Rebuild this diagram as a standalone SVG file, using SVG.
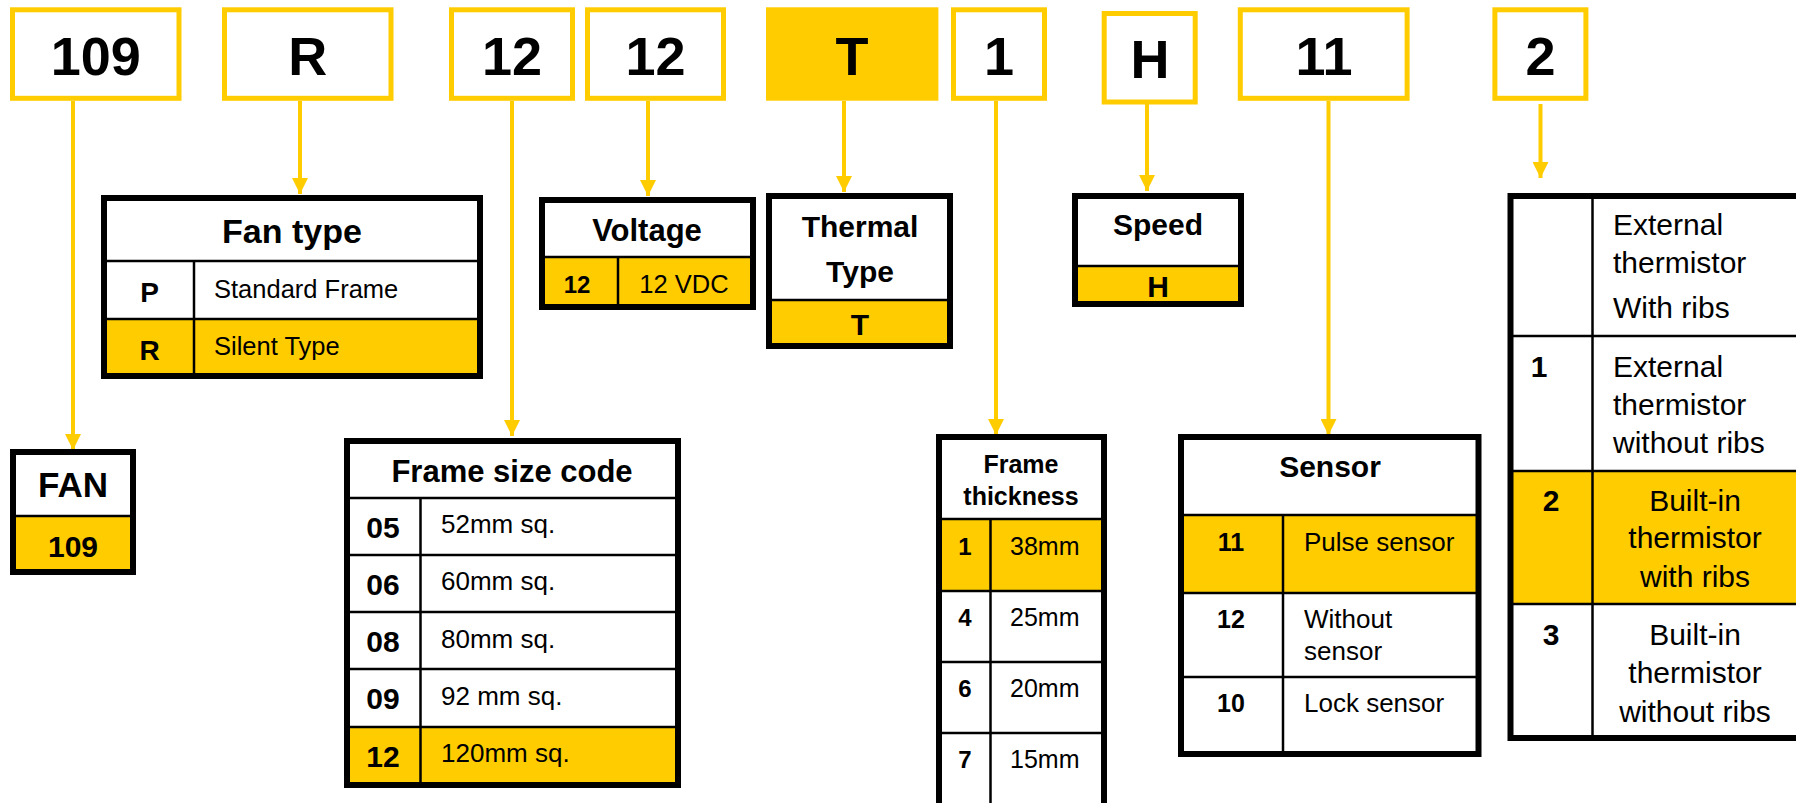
<svg xmlns="http://www.w3.org/2000/svg" width="1796" height="803" viewBox="0 0 1796 803">
<defs>
<style>
text{font-family:"Liberation Sans",Arial,sans-serif;fill:#000}
.top{fill:#fff;stroke:#FFCC00;stroke-width:5}
.topt{font-size:54px;font-weight:bold;text-anchor:middle}
.frame{fill:none;stroke:#000;stroke-width:6}
.bg{fill:#fff}
.yl{fill:#FFCC00}
.ln{stroke:#000;stroke-width:2.5;fill:none}
.b{font-weight:bold}
.m{text-anchor:middle}
.conn{stroke:#FFCC00;stroke-width:4;fill:none}
</style>
<marker id="ah" viewBox="0 0 16 16" refX="16" refY="8" markerWidth="16" markerHeight="16" markerUnits="userSpaceOnUse" orient="auto">
<path d="M0,0 L16,8 L0,16 Z" fill="#FFCC00"/>
</marker>
</defs>
<rect x="0" y="0" width="1796" height="803" fill="#fff"/>

<!-- top code boxes -->
<g id="code-109"><rect class="top" x="12.5" y="9.8" width="166.5" height="88.5"/><text class="topt" x="95.7" y="75">109</text></g>
<g id="code-R"><rect class="top" x="224.5" y="9.8" width="166.5" height="88.5"/><text class="topt" x="307.7" y="75">R</text></g>
<g id="code-12a"><rect class="top" x="451.5" y="9.8" width="121" height="88.5"/><text class="topt" x="512" y="75">12</text></g>
<g id="code-12b"><rect class="top" x="587.5" y="9.8" width="136" height="88.5"/><text class="topt" x="655.5" y="75">12</text></g>
<g id="code-T"><rect x="766" y="7.3" width="172.4" height="93.4" fill="#FFCC00"/><text class="topt" x="852" y="75">T</text></g>
<g id="code-1"><rect class="top" x="953.5" y="9.8" width="91" height="88.5"/><text class="topt" x="999" y="75">1</text></g>
<g id="code-H"><rect class="top" x="1104.2" y="13.5" width="91" height="88.5"/><text class="topt" x="1150" y="78.3">H</text></g>
<g id="code-11"><rect class="top" x="1240.3" y="9.8" width="166.8" height="88.5"/><text class="topt" x="1324" y="75">11</text></g>
<g id="code-2"><rect class="top" x="1494.9" y="9.8" width="91" height="88.5"/><text class="topt" x="1540.5" y="75">2</text></g>

<!-- connectors -->
<g id="connectors">
<line class="conn" x1="73" y1="101" x2="73" y2="450" marker-end="url(#ah)"/>
<line class="conn" x1="300" y1="101" x2="300" y2="194" marker-end="url(#ah)"/>
<line class="conn" x1="512" y1="101" x2="512" y2="436" marker-end="url(#ah)"/>
<line class="conn" x1="648" y1="101" x2="648" y2="196" marker-end="url(#ah)"/>
<line class="conn" x1="844" y1="101" x2="844" y2="192" marker-end="url(#ah)"/>
<line class="conn" x1="996" y1="101" x2="996" y2="435" marker-end="url(#ah)"/>
<line class="conn" x1="1147" y1="104" x2="1147" y2="191" marker-end="url(#ah)"/>
<line class="conn" x1="1328.5" y1="101" x2="1328.5" y2="435" marker-end="url(#ah)"/>
<line class="conn" x1="1540.5" y1="104" x2="1540.5" y2="178" marker-end="url(#ah)"/>
</g>

<!-- FAN -->
<g id="fan">
<rect class="bg" x="13" y="452" width="120" height="120"/>
<rect class="yl" x="13" y="516" width="120" height="56"/>
<line class="ln" x1="13" y1="516" x2="133" y2="516"/>
<rect class="frame" x="13" y="452" width="120" height="120"/>
<text class="b m" x="73" y="497" font-size="35">FAN</text>
<text class="b m" x="73" y="557" font-size="30">109</text>
</g>

<!-- Fan type -->
<g id="fan-type">
<rect class="bg" x="104" y="198" width="376" height="178"/>
<rect class="yl" x="104" y="319" width="376" height="57"/>
<line class="ln" x1="104" y1="261" x2="480" y2="261"/>
<line class="ln" x1="104" y1="319" x2="480" y2="319"/>
<line class="ln" x1="194" y1="261" x2="194" y2="376"/>
<rect class="frame" x="104" y="198" width="376" height="178"/>
<text class="b m" x="292" y="243" font-size="34">Fan type</text>
<text class="b m" x="149.5" y="302" font-size="28">P</text>
<text x="214" y="298" font-size="25.5">Standard Frame</text>
<text class="b m" x="149.5" y="360" font-size="28">R</text>
<text x="214" y="355" font-size="25.5">Silent Type</text>
</g>

<!-- Frame size code -->
<g id="frame-size">
<rect class="bg" x="347" y="441" width="331" height="344"/>
<rect class="yl" x="347" y="727" width="331" height="58"/>
<line class="ln" x1="347" y1="498" x2="678" y2="498"/>
<line class="ln" x1="347" y1="555" x2="678" y2="555"/>
<line class="ln" x1="347" y1="612" x2="678" y2="612"/>
<line class="ln" x1="347" y1="669" x2="678" y2="669"/>
<line class="ln" x1="347" y1="727" x2="678" y2="727"/>
<line class="ln" x1="420.5" y1="498" x2="420.5" y2="785"/>
<rect class="frame" x="347" y="441" width="331" height="344"/>
<text class="b m" x="512" y="482" font-size="31">Frame size code</text>
<text class="b m" x="383" y="538" font-size="30">05</text>
<text class="b m" x="383" y="595" font-size="30">06</text>
<text class="b m" x="383" y="652" font-size="30">08</text>
<text class="b m" x="383" y="709" font-size="30">09</text>
<text class="b m" x="383" y="767" font-size="30">12</text>
<text x="441" y="533" font-size="26">52mm sq.</text>
<text x="441" y="590" font-size="26">60mm sq.</text>
<text x="441" y="648" font-size="26">80mm sq.</text>
<text x="441" y="705" font-size="26">92 mm sq.</text>
<text x="441" y="762" font-size="26">120mm sq.</text>
</g>

<!-- Voltage -->
<g id="voltage">
<rect class="bg" x="542" y="200" width="211" height="107"/>
<rect class="yl" x="542" y="257" width="211" height="50"/>
<line class="ln" x1="542" y1="257" x2="753" y2="257"/>
<line class="ln" x1="618" y1="257" x2="618" y2="307"/>
<rect class="frame" x="542" y="200" width="211" height="107"/>
<text class="b m" x="647" y="241" font-size="31">Voltage</text>
<text class="b m" x="577" y="293" font-size="24">12</text>
<text class="m" x="684" y="293" font-size="25.5">12 VDC</text>
</g>

<!-- Thermal Type -->
<g id="thermal-type">
<rect class="bg" x="769" y="196" width="181" height="150"/>
<rect class="yl" x="769" y="300" width="181" height="46"/>
<line class="ln" x1="769" y1="300" x2="950" y2="300"/>
<rect class="frame" x="769" y="196" width="181" height="150"/>
<text class="b m" x="860" y="237" font-size="30">Thermal</text>
<text class="b m" x="860" y="282" font-size="30">Type</text>
<text class="b m" x="860" y="335" font-size="30">T</text>
</g>

<!-- Frame thickness -->
<g id="frame-thickness">
<rect class="bg" x="939" y="437" width="165" height="372"/>
<rect class="yl" x="939" y="519" width="165" height="72"/>
<line class="ln" x1="939" y1="519" x2="1104" y2="519"/>
<line class="ln" x1="939" y1="591" x2="1104" y2="591"/>
<line class="ln" x1="939" y1="662" x2="1104" y2="662"/>
<line class="ln" x1="939" y1="733" x2="1104" y2="733"/>
<line class="ln" x1="990.5" y1="519" x2="990.5" y2="809"/>
<rect class="frame" x="939" y="437" width="165" height="372"/>
<text class="b m" x="1021" y="473" font-size="25">Frame</text>
<text class="b m" x="1021" y="505" font-size="25">thickness</text>
<text class="b m" x="965" y="555" font-size="24">1</text>
<text class="b m" x="965" y="626" font-size="24">4</text>
<text class="b m" x="965" y="697" font-size="24">6</text>
<text class="b m" x="965" y="768" font-size="24">7</text>
<text x="1010" y="555" font-size="25">38mm</text>
<text x="1010" y="626" font-size="25">25mm</text>
<text x="1010" y="697" font-size="25">20mm</text>
<text x="1010" y="768" font-size="25">15mm</text>
</g>

<!-- Speed -->
<g id="speed">
<rect class="bg" x="1075" y="196" width="166" height="108"/>
<rect class="yl" x="1075" y="266" width="166" height="38"/>
<line class="ln" x1="1075" y1="266" x2="1241" y2="266"/>
<rect class="frame" x="1075" y="196" width="166" height="108"/>
<text class="b m" x="1158" y="235" font-size="30">Speed</text>
<text class="b m" x="1158" y="297" font-size="30">H</text>
</g>

<!-- Sensor -->
<g id="sensor">
<rect class="bg" x="1181" y="437" width="297.5" height="317"/>
<rect class="yl" x="1181" y="515" width="297.5" height="78"/>
<line class="ln" x1="1181" y1="515" x2="1478.5" y2="515"/>
<line class="ln" x1="1181" y1="593" x2="1478.5" y2="593"/>
<line class="ln" x1="1181" y1="677" x2="1478.5" y2="677"/>
<line class="ln" x1="1283" y1="515" x2="1283" y2="754"/>
<rect class="frame" x="1181" y="437" width="297.5" height="317"/>
<text class="b m" x="1330" y="477" font-size="30">Sensor</text>
<text class="b m" x="1231" y="551" font-size="25">11</text>
<text class="b m" x="1231" y="628" font-size="25">12</text>
<text class="b m" x="1231" y="712" font-size="25">10</text>
<text x="1304" y="551" font-size="26">Pulse sensor</text>
<text x="1304" y="628" font-size="26">Without</text>
<text x="1304" y="660" font-size="26">sensor</text>
<text x="1304" y="712" font-size="26">Lock sensor</text>
</g>

<!-- Thermistor table -->
<g id="thermistor">
<rect class="bg" x="1510.5" y="196" width="300" height="542"/>
<rect class="yl" x="1510.5" y="471" width="300" height="133"/>
<line class="ln" x1="1510.5" y1="336" x2="1810" y2="336"/>
<line class="ln" x1="1510.5" y1="471" x2="1810" y2="471"/>
<line class="ln" x1="1510.5" y1="604" x2="1810" y2="604"/>
<line class="ln" x1="1592.5" y1="196" x2="1592.5" y2="738"/>
<rect class="frame" x="1510.5" y="196" width="300" height="542"/>
<text x="1613" y="235" font-size="30">External</text>
<text x="1613" y="273" font-size="30">thermistor</text>
<text x="1613" y="318" font-size="30">With ribs</text>
<text class="b m" x="1539" y="377" font-size="30">1</text>
<text x="1613" y="377" font-size="30">External</text>
<text x="1613" y="415" font-size="30">thermistor</text>
<text x="1613" y="453" font-size="30">without ribs</text>
<text class="b m" x="1551" y="511" font-size="30">2</text>
<text class="m" x="1695" y="511" font-size="30">Built-in</text>
<text class="m" x="1695" y="548" font-size="30">thermistor</text>
<text class="m" x="1695" y="587" font-size="30">with ribs</text>
<text class="b m" x="1551" y="645" font-size="30">3</text>
<text class="m" x="1695" y="645" font-size="30">Built-in</text>
<text class="m" x="1695" y="683" font-size="30">thermistor</text>
<text class="m" x="1695" y="722" font-size="30">without ribs</text>
</g>
</svg>
